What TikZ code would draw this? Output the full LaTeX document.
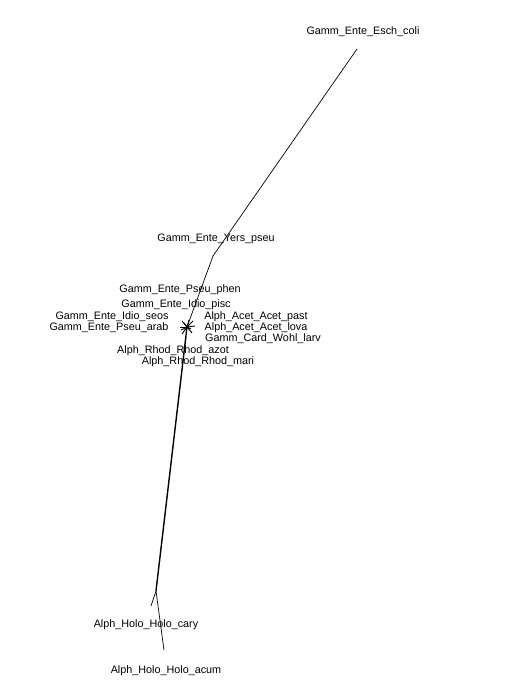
\documentclass[tikz,border=0pt]{standalone}
\usepackage{fontspec}
\setmainfont{Liberation Sans}
\begin{document}
\begin{tikzpicture}[x=1pt,y=-1pt,
  lbl/.style={inner sep=0pt,font=\fontsize{10.8}{12}\selectfont},
  br/.style={line width=0.7pt,black},
  spoke/.style={line width=0.9pt,black},
  thick br/.style={line width=1.4pt,black}]
\useasboundingbox[fill=white] (0,0) rectangle (506,700);
% tips / internal nodes
\coordinate (esch) at (357,49);
\coordinate (na) at (213,256);
\coordinate (nb) at (187,327);
\coordinate (nc) at (156,591);
\coordinate (cary) at (151,606);
\coordinate (acum) at (164,650);
\coordinate (s1) at (182,321);
\coordinate (s2) at (193,321);
\coordinate (s3) at (180,327);
\coordinate (s4) at (195,326);
\coordinate (s5) at (182,334);
\coordinate (s6) at (192,333);
\coordinate (s7) at (189,320);
\coordinate (s8) at (184,323);
\coordinate (s9) at (191,329);
\coordinate (s10) at (181,330);
% labels
\node[lbl] (lesch) at (363,32) {Gamm\_Ente\_Esch\_coli};
\node[lbl] (lyers) at (216,239) {Gamm\_Ente\_Yers\_pseu};
\node[lbl] (lphen) at (180,290) {Gamm\_Ente\_Pseu\_phen};
\node[lbl] (lpisc) at (176,305) {Gamm\_Ente\_Idio\_pisc};
\node[lbl] (lseos) at (112,317) {Gamm\_Ente\_Idio\_seos};
\node[lbl] (larab) at (109,328) {Gamm\_Ente\_Pseu\_arab};
\node[lbl] (lpast) at (256,317) {Alph\_Acet\_Acet\_past};
\node[lbl] (llova) at (256,328) {Alph\_Acet\_Acet\_lova};
\node[lbl] (llarv) at (263,339) {Gamm\_Card\_Wohl\_larv};
\node[lbl] (lazot) at (173,351) {Alph\_Rhod\_Rhod\_azot};
\node[lbl] (lmari) at (198,362) {Alph\_Rhod\_Rhod\_mari};
\node[lbl] (lcary) at (146,625) {Alph\_Holo\_Holo\_cary};
\node[lbl] (lacum) at (166,671) {Alph\_Holo\_Holo\_acum};
% branches
\draw[br] (esch) -- (na);
\draw[br] (na) -- (nb);
\draw[thick br] (nb) -- (nc);
\draw[br] (nc) -- (cary);
\draw[br] (nc) -- (acum);
\foreach \s in {s1,s2,s3,s4,s5,s6,s7,s8,s9,s10} \draw[spoke] (nb) -- (\s);
\end{tikzpicture}
\end{document}
